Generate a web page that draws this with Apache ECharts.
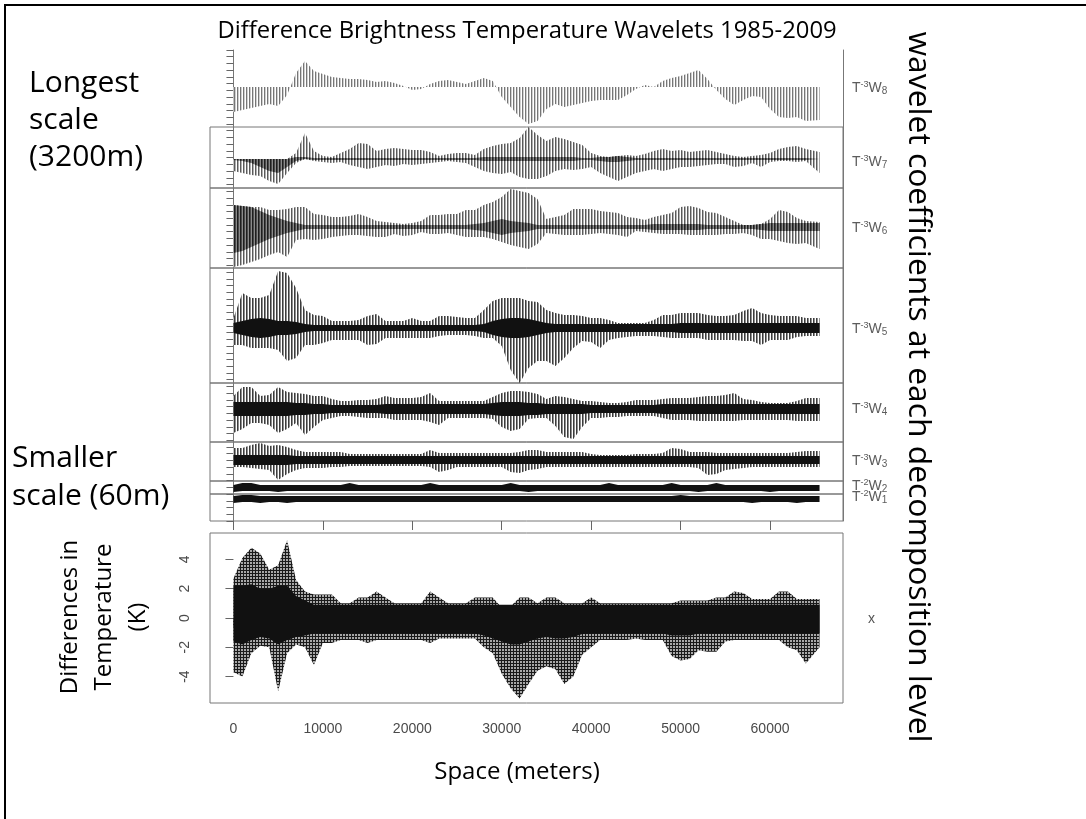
<!DOCTYPE html>
<html>
<head>
<meta charset="utf-8">
<script src="https://cdn.jsdelivr.net/npm/echarts@6/dist/echarts.min.js"></script>
<style>
  html, body { margin: 0; background: #fff; }
  #chart { width: 1086px; height: 819px; }
</style>
</head>
<body>
<div id="chart"></div>
<script>
// sample positions along the transect (metres)
const xMeters = [0,1000,2000,3000,4000,5000,6000,7000,8000,9000,10000,11000,12000,13000,14000,15000,16000,17000,18000,19000,
  20000,21000,22000,23000,24000,25000,26000,27000,28000,29000,30000,31000,32000,33000,34000,35000,36000,37000,38000,39000,
  40000,41000,42000,43000,44000,45000,46000,47000,48000,49000,50000,51000,52000,53000,54000,55000,56000,57000,58000,59000,
  60000,61000,62000,63000,64000,65535];
const tickMeters = [0, 10000, 20000, 30000, 40000, 50000, 60000];
const tempTicks = [-4, -2, 0, 2, 4];

// wavelet coefficients (arbitrary units = px of the original plot)
const w8 = [-25,-23,-21,-19,-17,-19,-8,14,26,16, 13,10,9,8,8,7,5,6,4,1, -3,-2,3,6,7,5,3,6,9,6,
  -10,-20,-30,-37,-34,-22,-17,-20,-18,-16, -14,-13,-13,-13,-8,-2,2,0,6,9, 11,14,17,8,-3,-12,-18,-13,-9,-10, -22,-30,-31,-30,-34,-33];

const w7Hi = [0,0,0,0,0,0,0,6,26,8, 3,2,6,10,16,15,8,10,11,10, 9,9,7,3,5,6,6,4,10,13,
  15,16,21,32,24,18,22,20,17,14, 6,3,2,3,4,3,5,8,10,8, 9,7,8,9,7,5,3,2,3,4, 6,10,12,13,10,7];
const w7Lo = [-12,-14,-16,-17,-22,-25,-14,-4,0,-2, -3,-4,-3,-6,-8,-10,-8,-6,-7,-5, -6,-5,-4,-3,-2,-3,-4,-8,-12,-14,
  -15,-13,-18,-20,-20,-17,-12,-10,-11,-10, -8,-14,-18,-22,-18,-14,-12,-10,-12,-10, -8,-8,-7,-6,-5,-5,-8,-7,-4,-8, -3,-2,-2,-3,-2,-14];
const w7Core = [1,2,4,8,12,14,8,2,2,1, 1,1,1,1,1,1,1,1,1,1, 1,1,1,1,1,1,1,1,2,2,
  2,2,2,2,2,2,2,2,2,1, 1,2,3,3,2,1,1,1,1,1, 1,1,1,1,1,1,1,1,1,1, 1,1,1,1,1,1];

const w6Hi = [22,21,20,20,17,17,18,20,20,13, 12,10,10,11,13,10,6,5,4,3, 4,6,12,12,13,13,17,17,22,25,
  30,38,36,34,28,8,10,12,18,18, 18,16,15,14,10,9,7,10,12,14, 20,21,19,15,14,10,6,2,2,3, 8,17,15,9,6,5];
const w6Lo = [-40,-38,-35,-32,-28,-25,-30,-13,-12,-13, -12,-10,-9,-8,-8,-9,-10,-10,-7,-9, -8,-5,-7,-7,-6,-8,-10,-10,-10,-12,
  -15,-18,-20,-22,-17,-6,-7,-8,-8,-8, -7,-6,-7,-8,-10,-4,-5,-6,-7,-7, -7,-8,-8,-8,-8,-7,-7,-6,-8,-12, -12,-14,-16,-17,-16,-22];
const w6Core = [26,24,20,16,12,9,6,4,2,2, 2,2,2,2,2,2,2,2,2,2, 2,2,2,2,2,2,2,3,4,6,
  8,6,5,4,2,2,2,2,2,2, 2,2,2,2,2,2,2,3,3,3, 3,3,3,2,2,2,2,2,2,3, 4,4,4,4,4,4];

const w5Hi = [10,35,30,30,33,57,55,40,18,13, 12,7,7,7,8,12,14,7,7,7, 10,7,7,12,12,11,10,10,18,27,
  30,30,30,27,26,18,15,13,13,12, 10,10,8,5,5,5,5,8,13,13, 15,15,15,13,12,12,13,17,20,15, 13,12,12,12,10,10];
const w5Lo = [-17,-17,-20,-20,-20,-22,-33,-30,-17,-17, -15,-12,-12,-12,-12,-17,-16,-10,-10,-10, -10,-10,-10,-8,-7,-7,-7,-8,-10,-10,
  -18,-42,-55,-40,-33,-33,-38,-30,-20,-13, -14,-20,-12,-10,-9,-8,-8,-8,-9,-10, -10,-10,-10,-12,-12,-12,-12,-13,-13,-17, -12,-12,-12,-9,-8,-8];
const w5Core = [5,7,9,10,9,7,7,6,4,3, 3,3,3,3,3,3,3,3,3,3, 3,3,3,3,3,3,3,3,4,7,
  9,10,10,9,7,5,4,4,4,4, 4,4,4,4,4,4,4,4,4,4, 5,5,5,5,5,5,5,5,5,5, 5,5,5,5,5,5];

const w4Hi = [13,22,22,13,14,22,17,16,15,13, 13,10,8,8,9,9,10,13,11,11, 11,12,16,8,8,8,8,8,8,12,
  16,18,18,17,15,10,13,12,10,8, 8,7,6,6,7,9,9,9,10,11, 11,11,12,13,13,14,16,10,9,7, 6,6,6,8,11,11];
const w4Lo = [-24,-20,-14,-14,-16,-24,-20,-14,-26,-18, -11,-9,-7,-7,-8,-9,-9,-9,-11,-11, -11,-11,-13,-16,-9,-9,-9,-9,-9,-10,
  -18,-22,-20,-10,-9,-9,-17,-28,-30,-18, -9,-9,-8,-8,-7,-7,-7,-7,-9,-11, -11,-11,-12,-12,-12,-12,-12,-11,-11,-11, -11,-11,-11,-12,-12,-12];
const w4Core = [7,7,7,7,7,7,7,6,6,5, 5,4,4,4,4,4,4,5,5,5, 5,5,5,5,5,5,5,5,5,6,
  7,7,7,6,6,5,5,5,5,5, 4,4,4,4,4,4,4,4,5,5, 5,5,5,5,5,5,5,5,5,5, 5,5,5,5,5,5];

const w3Hi = [12,12,15,17,14,15,13,10,8,8, 8,8,8,6,6,6,6,6,6,6, 6,6,10,7,7,7,7,7,7,7,
  7,7,8,10,10,8,8,8,8,8, 6,5,5,5,5,6,6,6,7,12, 11,8,8,8,7,7,7,7,7,7, 7,7,7,8,9,9];
const w3Lo = [-7,-7,-8,-9,-10,-20,-14,-10,-8,-8, -8,-7,-7,-6,-6,-6,-6,-6,-6,-6, -6,-6,-7,-12,-10,-7,-7,-7,-7,-7,
  -7,-12,-13,-10,-9,-7,-7,-7,-7,-7, -7,-7,-7,-7,-7,-7,-7,-7,-7,-7, -7,-7,-8,-15,-14,-10,-9,-8,-7,-7, -7,-7,-7,-7,-7,-7];
const w3Core = [5,5,5,5,5,5,5,4,4,4, 4,4,4,4,4,4,4,4,4,4, 4,4,4,4,4,4,4,4,4,4,
  4,4,4,4,4,4,4,4,4,4, 4,4,4,4,4,4,4,4,4,4, 4,4,4,4,4,4,4,4,4,4, 4,4,4,4,4,4];

const w2Hi = [3,5,5,3,3,3,3,3,3,3, 3,3,3,5,3,3,3,3,3,3, 3,3,5,3,3,3,3,3,3,3,
  3,5,3,3,3,3,3,3,3,3, 3,3,5,3,3,3,3,3,3,5, 3,3,3,3,5,3,3,3,3,3, 3,3,3,3,3,3];
const w2Lo = [-4,-3,-3,-3,-3,-4,-3,-3,-3,-3, -3,-3,-3,-3,-3,-3,-3,-3,-3,-3, -3,-3,-3,-3,-3,-3,-3,-3,-3,-3,
  -3,-3,-3,-4,-3,-3,-3,-3,-3,-3, -3,-3,-3,-3,-3,-3,-3,-3,-3,-3, -3,-3,-4,-3,-3,-3,-3,-3,-3,-3, -4,-3,-3,-3,-3,-3];

const w1Hi = [3,4,4,3,3,3,3,3,3,3, 3,3,3,3,3,3,3,3,3,3, 3,3,3,3,3,3,3,3,3,3,
  3,3,3,3,3,3,3,3,3,3, 3,3,3,3,3,3,3,3,3,3, 4,3,3,3,3,3,3,3,3,3, 3,3,3,3,3,3];
const w1Lo = [-4,-3,-3,-4,-3,-3,-4,-3,-3,-3, -3,-3,-3,-3,-3,-3,-3,-3,-3,-3, -3,-3,-3,-3,-3,-3,-3,-3,-3,-3,
  -3,-3,-3,-3,-3,-3,-3,-3,-3,-3, -3,-3,-3,-3,-3,-3,-3,-3,-3,-3, -3,-3,-3,-3,-3,-3,-3,-3,-4,-3, -3,-3,-3,-4,-3,-3];

// temperature differences (K)
const tempHi = [2.7,4.1,4.8,4.4,3.3,3.6,5.3,2.6,1.8,1.6, 1.6,1.6,1.0,1.0,1.4,1.4,1.8,1.4,1.0,1.0,
  1.0,1.0,1.8,1.4,1.0,1.0,1.0,1.4,1.4,1.4, 0.7,0.8,1.4,1.4,1.0,1.4,1.4,1.0,1.0,1.0,
  1.4,1.0,1.0,1.0,1.0,1.0,1.0,1.0,1.0,1.0, 1.2,1.2,1.2,1.2,1.4,1.4,1.8,1.7,1.3,1.3, 1.3,1.8,1.8,1.3,1.3,1.3];
const tempLo = [-3.7,-4.0,-2.4,-1.9,-2.0,-5.0,-2.4,-1.8,-2.0,-3.2, -1.7,-1.7,-1.5,-1.5,-1.5,-1.7,-1.5,-1.5,-1.5,-1.5,
  -1.5,-1.5,-1.7,-1.4,-1.4,-1.4,-1.4,-1.4,-2.0,-2.4, -3.8,-4.8,-5.5,-4.5,-3.6,-3.3,-3.5,-4.5,-4.0,-2.5,
  -2.0,-1.5,-1.5,-1.5,-1.5,-1.4,-1.5,-1.5,-1.5,-2.6, -2.9,-2.8,-2.2,-2.3,-2.3,-1.6,-1.5,-1.5,-1.5,-1.5, -1.5,-1.5,-2.0,-2.2,-3.1,-2.0];
const tempCoreHi = [2.2,2.2,2.3,2.0,2.0,2.2,2.2,1.5,1.2,0.9, 0.9,0.9,0.9,0.9,0.9,0.9,0.9,0.9,0.9,0.9,
  0.9,0.9,0.9,0.9,0.9,0.9,0.9,0.9,0.9,0.9, 0.9,0.9,0.9,0.9,0.9,0.9,0.9,0.9,0.9,0.9,
  0.9,0.9,0.9,0.9,0.9,0.9,0.9,0.9,0.9,0.9, 0.9,0.9,0.9,0.9,0.9,0.9,0.9,0.9,0.9,0.9, 0.9,0.9,0.9,0.9,0.9,0.9];
const tempCoreLo = [-1.6,-1.8,-1.5,-1.3,-1.4,-1.8,-1.5,-1.3,-1.2,-1.05, -1.05,-1.05,-1.05,-1.05,-1.05,-1.05,-1.05,-1.05,-1.05,-1.05,
  -1.05,-1.05,-1.05,-1.05,-1.05,-1.05,-1.05,-1.05,-1.2,-1.4, -1.6,-1.8,-1.8,-1.6,-1.4,-1.3,-1.4,-1.4,-1.3,-1.1,
  -1.05,-1.05,-1.05,-1.05,-1.05,-1.05,-1.05,-1.05,-1.05,-1.2, -1.2,-1.2,-1.05,-1.05,-1.05,-1.05,-1.05,-1.05,-1.05,-1.05, -1.05,-1.05,-1.05,-1.05,-1.05,-1.05];

// page layout (px)
const X_MIN = -2621.44, X_MAX = 68157.44;
const PLOT_LEFT = 210, PLOT_W = 633;
const bandBoxes = [
  { top: 50, bottom: 127, base: 87 },
  { top: 127, bottom: 188, base: 159 },
  { top: 188, bottom: 268, base: 227 },
  { top: 268, bottom: 383, base: 328 },
  { top: 383, bottom: 442, base: 409 },
  { top: 442, bottom: 481, base: 460 },
  { top: 481, bottom: 494, base: 488 },
  { top: 494, bottom: 521, base: 499 }
];

// vertical-line hatching like R's type="h" bars
function hatch(c0, c1, c2) {
  const cv = document.createElement('canvas');
  cv.width = 3; cv.height = 1;
  const g = cv.getContext('2d');
  g.fillStyle = c2 || '#fff'; g.fillRect(0, 0, 3, 1);
  g.fillStyle = c0; g.fillRect(0, 0, 1, 1);
  g.fillStyle = c1; g.fillRect(1, 0, 1, 1);
  return { image: cv, repeat: 'repeat' };
}
function mesh() {
  const cv = document.createElement('canvas');
  cv.width = 3; cv.height = 3;
  const g = cv.getContext('2d');
  g.fillStyle = '#a8a8a8'; g.fillRect(0, 0, 3, 3);
  g.fillStyle = '#1a1a1a'; g.fillRect(0, 0, 1, 3); g.fillRect(0, 0, 3, 1);
  return { image: cv, repeat: 'repeat' };
}
const lightHatch = hatch('#767676', '#cfcfcf');
const midHatch = hatch('#5a5a5a', '#b0b0b0');
const darkHatch = hatch('#3c3c3c', '#8e8e8e');
const shadeHatch = hatch('#1e1e1e', '#4a4a4a', '#8a8a8a');
const CORE = '#111';

const bands = [
  { sub: '8', pow: '-3', hi: w8, fill: lightHatch },
  { sub: '7', pow: '-3', hi: w7Hi, lo: w7Lo, core: w7Core, fill: midHatch, coreFill: shadeHatch },
  { sub: '6', pow: '-3', hi: w6Hi, lo: w6Lo, core: w6Core, fill: midHatch, coreFill: shadeHatch },
  { sub: '5', pow: '-3', hi: w5Hi, lo: w5Lo, core: w5Core, fill: darkHatch, coreFill: CORE },
  { sub: '4', pow: '-3', hi: w4Hi, lo: w4Lo, core: w4Core, fill: darkHatch, coreFill: CORE },
  { sub: '3', pow: '-3', hi: w3Hi, lo: w3Lo, core: w3Core, fill: darkHatch, coreFill: CORE },
  { sub: '2', pow: '-2', hi: w2Hi, lo: w2Lo, fill: CORE },
  { sub: '1', pow: '-2', hi: w1Hi, lo: w1Lo, fill: CORE }
];

function area(xi, yi, vals, color) {
  return {
    type: 'line', xAxisIndex: xi, yAxisIndex: yi,
    data: xMeters.map((x, i) => [x, vals[i]]),
    symbol: 'none', showSymbol: false, silent: true,
    lineStyle: { width: 0, opacity: 0 },
    areaStyle: { color: color, opacity: 1, origin: 'auto' }
  };
}

const grids = [], xAxes = [], yAxes = [], series = [];
bands.forEach((b, i) => {
  const box = bandBoxes[i];
  grids.push({ left: PLOT_LEFT, width: PLOT_W, top: box.top, height: box.bottom - box.top,
    show: i > 0, borderColor: '#777', borderWidth: 1, backgroundColor: 'transparent', outerBoundsMode: 'none' });
  xAxes.push({ gridIndex: i, type: 'value', min: X_MIN, max: X_MAX, show: false });
  yAxes.push({ gridIndex: i, type: 'value', min: -(box.bottom - box.base), max: box.base - box.top, show: false });
  series.push(area(i, i, b.hi, b.fill));
  if (b.lo) series.push(area(i, i, b.lo, b.fill));
  if (b.core) {
    series.push(area(i, i, b.core.map((c, j) => Math.min(c, b.hi[j])), b.coreFill));
    series.push(area(i, i, b.core.map((c, j) => Math.max(-c, b.lo[j])), b.coreFill));
  }
});

// frame of the stacked panel: left tick ruler, right edge, ticks under it
grids.push({ left: PLOT_LEFT, width: PLOT_W, top: 50, height: 471, show: false, outerBoundsMode: 'none' });
xAxes.push({ gridIndex: 8, type: 'value', min: X_MIN, max: X_MAX, position: 'bottom',
  axisLine: { show: false },
  axisTick: { show: true, inside: false, length: 9, customValues: tickMeters, lineStyle: { color: '#666' } },
  axisLabel: { show: false }, splitLine: { show: false } });
yAxes.push({ gridIndex: 8, type: 'value', min: 0, max: 70, interval: 1, position: 'left',
  axisLine: { show: true, lineStyle: { color: '#777' } },
  axisTick: { show: true, length: 7, lineStyle: { color: '#666' } },
  axisLabel: { show: false }, splitLine: { show: false } });
yAxes.push({ gridIndex: 8, type: 'value', min: 0, max: 1, position: 'right',
  axisLine: { show: true, lineStyle: { color: '#777' } },
  axisTick: { show: false }, axisLabel: { show: false }, splitLine: { show: false } });

// bottom panel: original series
grids.push({ left: PLOT_LEFT, width: PLOT_W, top: 533, height: 170, show: true,
  borderColor: '#777', borderWidth: 1, outerBoundsMode: 'none' });
const tickFont = { fontFamily: '"Liberation Sans", Arial, sans-serif', fontSize: 14, color: '#4a4a4a' };
xAxes.push({ gridIndex: 9, type: 'value', min: X_MIN, max: X_MAX, position: 'bottom',
  axisLine: { show: false },
  axisTick: { show: true, length: 9, customValues: tickMeters, lineStyle: { color: '#666' } },
  axisLabel: Object.assign({ show: true, margin: 19, customValues: tickMeters, formatter: v => String(v) }, tickFont),
  splitLine: { show: false } });
yAxes.push({ gridIndex: 9, type: 'value', min: -5.8, max: 5.8, position: 'left',
  axisLine: { show: false },
  axisTick: { show: true, length: 8, customValues: tempTicks, lineStyle: { color: '#666' } },
  axisLabel: Object.assign({ show: true, rotate: 90, margin: 18, customValues: tempTicks, formatter: v => String(v) }, tickFont),
  splitLine: { show: false } });
const tempFill = mesh();
series.push(area(9, 10, tempHi, tempFill));
series.push(area(9, 10, tempLo, tempFill));
series.push(area(9, 10, tempCoreHi, CORE));
series.push(area(9, 10, tempCoreLo, CORE));

// text
const SANS = '"Open Sans", "Noto Sans", sans-serif';
function fitSize(text, target) {
  const g = document.createElement('canvas').getContext('2d');
  g.font = '100px ' + SANS;
  return 100 * target / g.measureText(text).width;
}
const titleText = 'Difference Brightness Temperature Wavelets 1985-2009';
const sideText = 'wavelet coefficients at each decomposition level';

function txt(text, x, y, size, align, rotation) {
  return {
    type: 'text', x: x, y: y, rotation: rotation || 0, silent: true,
    style: { text: text, font: size.toFixed(1) + 'px ' + SANS, fill: '#000',
      align: align, textAlign: align, verticalAlign: 'middle', textVerticalAlign: 'middle' }
  };
}

const graphics = [
  { type: 'polyline', silent: true, shape: { points: [[5, 819], [5, 5], [1086, 5]] },
    style: { stroke: '#000', lineWidth: 2, fill: null } },
  txt(titleText, 527, 31, fitSize(titleText, 619), 'center'),
  txt('Longest', 29, 83, 30, 'left'),
  txt('scale', 29, 120, 30, 'left'),
  txt('(3200m)', 29, 157, 30, 'left'),
  txt('Smaller', 12, 458, 30, 'left'),
  txt('scale (60m)', 12, 496, 30, 'left'),
  txt('Differences in', 70, 617, 24, 'center', Math.PI / 2),
  txt('Temperature', 104, 617, 24, 'center', Math.PI / 2),
  txt('(K)', 138, 617, 24, 'center', Math.PI / 2),
  txt('Space (meters)', 517, 772, 24, 'center'),
  txt(sideText, 918, 387, fitSize(sideText, 710), 'center', -Math.PI / 2),
  { type: 'text', x: 868, y: 619, silent: true,
    style: { text: 'x', font: '14px "Liberation Sans", Arial, sans-serif', fill: '#555',
      align: 'left', textAlign: 'left', verticalAlign: 'middle', textVerticalAlign: 'middle' } }
];
const labelY = [88, 162, 228, 329, 409, 461, 486, 497];
const LBL = '"Liberation Sans", Arial, sans-serif';
bands.forEach((b, i) => {
  graphics.push({
    type: 'text', x: 852, y: labelY[i], silent: true,
    style: {
      text: '{t|T}{s|' + b.pow + '}{t|W}{b|' + b.sub + '}',
      align: 'left', textAlign: 'left', verticalAlign: 'middle', textVerticalAlign: 'middle',
      rich: {
        t: { fontSize: 14, lineHeight: 16, fontFamily: LBL, fill: '#5c5c5c', color: '#5c5c5c' },
        s: { fontSize: 9, lineHeight: 16, verticalAlign: 'top', fontFamily: LBL, fill: '#5c5c5c', color: '#5c5c5c' },
        b: { fontSize: 10, lineHeight: 10, verticalAlign: 'bottom', fontFamily: LBL, fill: '#5c5c5c', color: '#5c5c5c' }
      }
    }
  });
});

const chart = echarts.init(document.getElementById('chart'), null, { renderer: 'canvas' });
chart.setOption({
  animation: false,
  backgroundColor: '#fff',
  grid: grids,
  xAxis: xAxes,
  yAxis: yAxes,
  series: series,
  graphic: graphics
});
</script>
</body>
</html>
